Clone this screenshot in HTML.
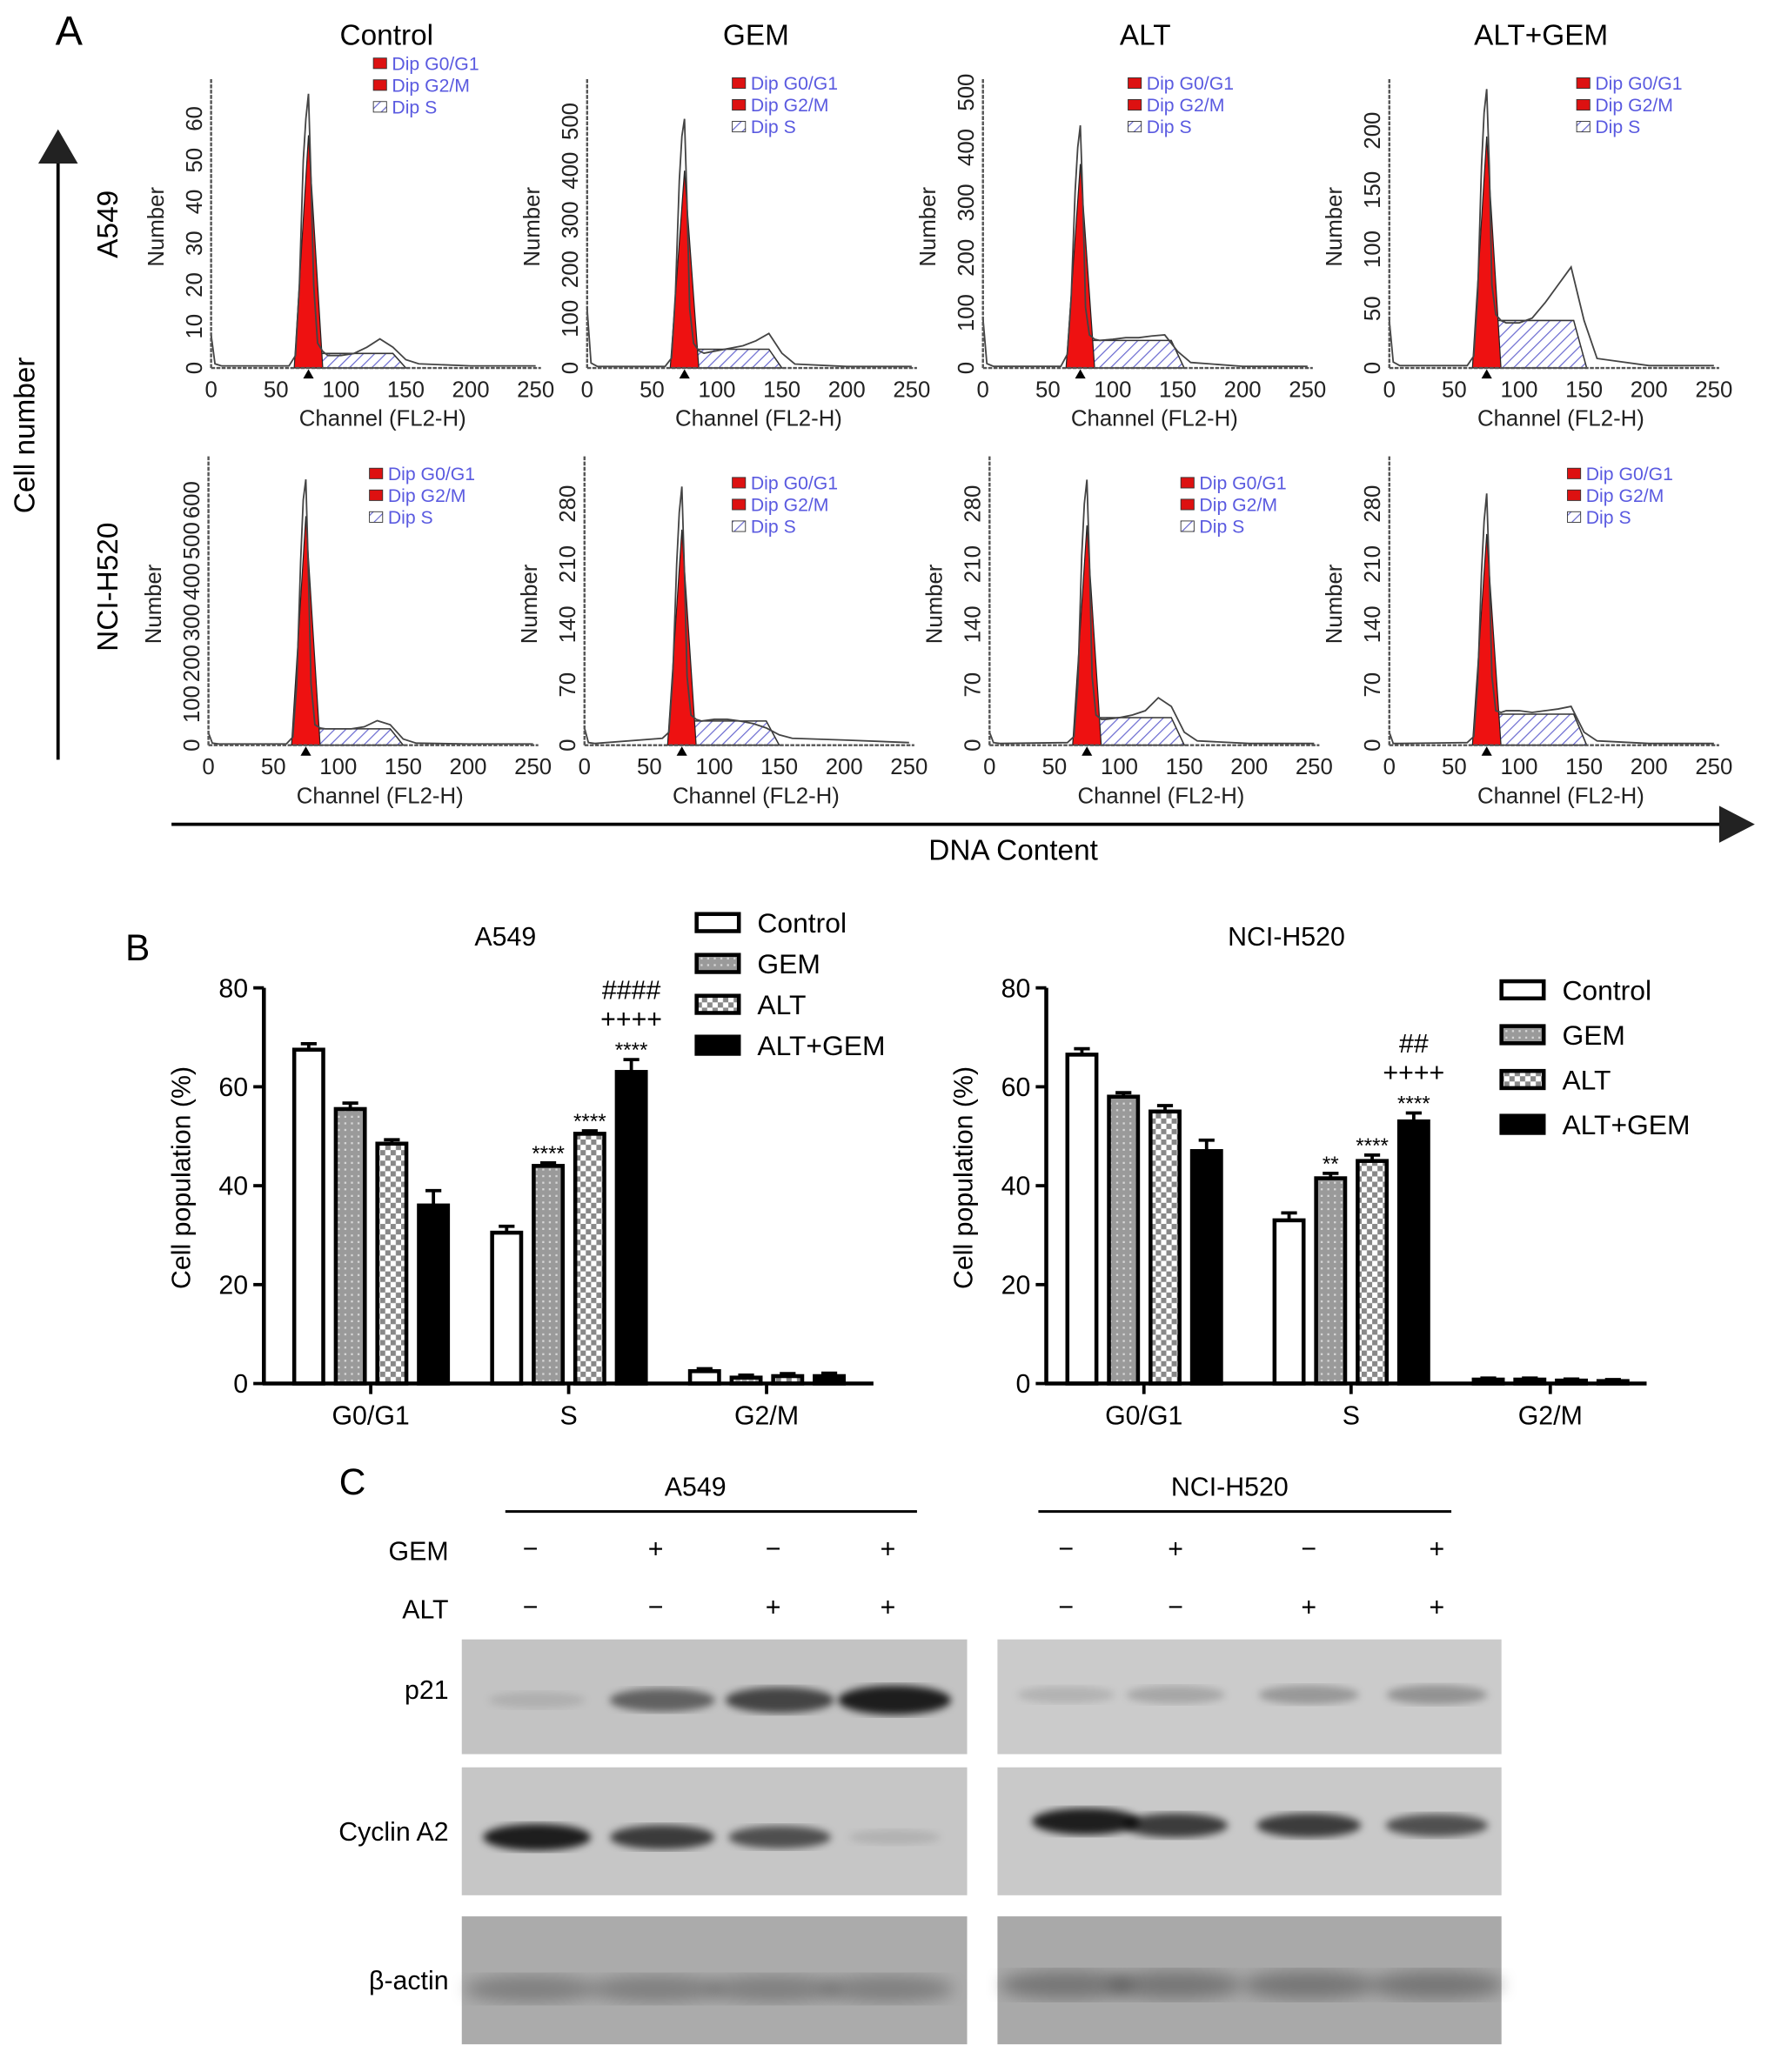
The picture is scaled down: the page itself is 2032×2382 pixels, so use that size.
<!DOCTYPE html>
<html><head><meta charset="utf-8">
<style>
html,body{margin:0;padding:0;background:#fff;}
svg{display:block;font-family:"Liberation Sans",Arial,sans-serif;}
</style></head>
<body>
<svg id="fig" xmlns="http://www.w3.org/2000/svg" width="2032" height="2382" viewBox="0 0 1340 1571" preserveAspectRatio="none">
<defs>
<pattern id="hatch" patternUnits="userSpaceOnUse" width="6" height="6" patternTransform="rotate(45)"><rect width="6" height="6" fill="#fff"/><line x1="0" y1="0" x2="0" y2="6" stroke="#6a6ad0" stroke-width="1.6"/></pattern>
<pattern id="gemPat" patternUnits="userSpaceOnUse" width="5" height="5"><rect width="5" height="5" fill="#9a9a9a"/><rect x="1" y="1" width="1.5" height="1.5" fill="#d8d8d8"/></pattern>
<pattern id="altPat" patternUnits="userSpaceOnUse" width="8" height="8"><rect width="8" height="8" fill="#fff"/><rect width="4" height="4" fill="#888"/><rect x="4" y="4" width="4" height="4" fill="#888"/></pattern>
<filter id="blur3"><feGaussianBlur stdDeviation="3"/></filter>
<filter id="blur6"><feGaussianBlur stdDeviation="6"/></filter>
</defs>
<g id="root"></g>
</svg>
<script>
// ---------- Panel A data ----------
const channels = [0,3,8,60,65,68,71,73,75,77,79,82,86,90,100,110,120,130,140,150,160,200,250];
const countsA549Control = [8,1,0.5,0.5,3,20,50,60,66,45,20,6,4,3,3,3.5,5,7,5,2,1,0.5,0.5];
const countsA549GEM = [120,10,3,3,20,150,380,470,505,330,120,50,35,30,35,40,45,55,70,30,8,3,3];
const countsA549ALT = [90,8,3,3,25,130,320,400,440,300,110,60,52,50,52,55,55,58,60,30,10,3,3];
const countsA549ALTGEM = [40,5,2,2,10,60,170,215,235,170,70,45,40,38,38,42,55,70,85,40,8,2,2];
const countsH520Control = [30,5,3,3,20,150,450,600,650,420,150,50,42,40,40,40,45,60,50,15,5,3,3];
const countsH520GEM = [20,3,2,8,15,80,210,270,300,200,80,35,30,28,30,30,28,25,20,12,8,6,3];
const countsH520ALT = [15,3,2,3,10,70,220,280,308,210,80,35,30,30,32,35,40,55,45,15,5,2,2];
const countsH520ALTGEM = [15,2,2,3,10,70,200,260,292,200,80,40,38,40,40,38,40,42,45,15,5,2,2];
const g1Fit = [56, 400, 370, 195, 560, 250, 255, 245];
const sFit = [3.5, 38, 50, 40, 40, 28, 32, 36];
const sEnd = [150, 150, 155, 152, 150, 150, 150, 152];
const tickMaxes = [60, 500, 500, 200, 600, 280, 280, 280];
const tickSteps = [10, 100, 100, 50, 100, 70, 70, 70];
const tickPxTop = [90, 92, 70, 99, 379, 382, 382, 382];
const colTitles = ["Control","GEM","ALT","ALT+GEM"];
// ---------- Panel B data ----------
const phases = ["G0/G1","S","G2/M"];
const groups = ["Control","GEM","ALT","ALT+GEM"];
const a549Values = [[67.5,55.5,48.5,36],[30.5,44,50.5,63],[2.5,1.2,1.5,1.5]];
const a549Errors = [[1.2,1.2,0.8,3],[1.3,0.6,0.6,2.5],[0.5,0.5,0.5,0.6]];
const a549Annot = [["","","",""],["","****","****","****|++++|####"],["","","",""]];
const h520Values = [[66.5,58,55,47],[33,41.5,45,53],[0.8,0.8,0.6,0.5]];
const h520Errors = [[1.2,0.8,1.2,2.2],[1.5,1,1.2,1.7],[0.3,0.3,0.3,0.3]];
const h520Annot = [["","","",""],["","**","****","****|++++|##"],["","","",""]];
const yTicksB = [0,20,40,60,80];
// ---------- Panel C data ----------
const gemSigns = ["−","+","−","+"];
const altSigns = ["−","−","+","+"];
const p21A549 = [0.1,0.5,0.65,0.85];
const p21H520 = [0.12,0.18,0.25,0.28];
const cycA549 = [0.85,0.7,0.6,0.1];
const cycH520 = [0.85,0.7,0.7,0.6];

const NS="http://www.w3.org/2000/svg";
const root=document.getElementById('root');
function mk(tag,attrs,parent){const e=document.createElementNS(NS,tag);for(const k in attrs)e.setAttribute(k,attrs[k]);(parent||root).appendChild(e);return e;}
function txt(s,attrs,parent){const e=mk('text',attrs,parent);e.textContent=s;return e;}

// ---------- Panel A ----------
let t;
t=txt("A",{x:42,y:34,'font-size':31});

let a=mk('line',{x1:44,y1:576,x2:44,y2:120,stroke:'#000','stroke-width':2.5});

a=mk('polygon',{points:'29,124 59,124 44,98',fill:'#222'});

t=txt("Cell number",{x:0,y:0,'font-size':22,'text-anchor':'middle',transform:'translate(26,330) rotate(-90)'});

t=txt("A549",{x:0,y:0,'font-size':22,'text-anchor':'middle',transform:'translate(89,170) rotate(-90)'});

t=txt("NCI-H520",{x:0,y:0,'font-size':22,'text-anchor':'middle',transform:'translate(89,445) rotate(-90)'});

a=mk('line',{x1:130,y1:625,x2:1306,y2:625,stroke:'#000','stroke-width':2.5});

a=mk('polygon',{points:'1303,611 1303,639 1330,625',fill:'#222'});

t=txt("DNA Content",{x:768,y:652,'font-size':22,'text-anchor':'middle'});


const allCounts=[countsA549Control,countsA549GEM,countsA549ALT,countsA549ALTGEM,countsH520Control,countsH520GEM,countsH520ALT,countsH520ALTGEM];
const axX=[160,445,745,1053,158,443,750,1053];
const titleX=[293,573,868,1168];
const legendPos=[[283,53],[555,68],[855,68],[1195,68],[280,364],[555,371],[895,371],[1188,364]];
for(let i=0;i<8;i++){
  const row=i<4?0:1;
  const x0=axX[i], y0=row?565:279, top=row?346:60, W=246;
  const pxu=(y0-tickPxTop[i])/tickMaxes[i];
  const xs=c=>x0+c/250*W, ys=v=>y0-v*pxu;
  const g=mk('g',{});
  
  
  if(row===0){t=txt(colTitles[i],{x:titleX[i],y:34,'font-size':22,'text-anchor':'middle'},g);
    }
  const s0=80, e=sEnd[i], h=sFit[i];
  let p=mk('polygon',{points:`${xs(s0)},${ys(0)} ${xs(s0+3)},${ys(h)} ${xs(e-10)},${ys(h)} ${xs(e)},${ys(0)}`,fill:'url(#hatch)',stroke:'#333','stroke-width':1},g);
  
  p=mk('polygon',{points:`${xs(64)},${ys(0)} ${xs(75)},${ys(g1Fit[i])} ${xs(86)},${ys(0)}`,fill:'#ee1111',stroke:'#222','stroke-width':0.8},g);
  
  p=mk('polyline',{points:channels.map((c,k)=>xs(c)+','+ys(allCounts[i][k])).join(' '),fill:'none',stroke:'#444','stroke-width':1.2},g);
  
  let l=mk('line',{x1:x0,y1:top,x2:x0,y2:y0,stroke:'#555','stroke-width':1.6,'stroke-dasharray':'3,1'},g);
  
  l=mk('line',{x1:x0,y1:y0,x2:x0+W+4,y2:y0,stroke:'#555','stroke-width':1.6,'stroke-dasharray':'3,1'},g);
  
  for(let c=0;c<=250;c+=50){
    t=txt(String(c),{x:xs(c),y:y0+22,'font-size':17,'text-anchor':'middle',fill:'#222'},g);
    
  }
  for(let v=0;v<=tickMaxes[i];v+=tickSteps[i]){
    t=txt(String(v),{x:0,y:0,'font-size':17,'text-anchor':'middle',fill:'#222',transform:`translate(${x0-7},${ys(v)}) rotate(-90)`},g);
    
  }
  t=txt("Number",{x:0,y:0,'font-size':17,'text-anchor':'middle',fill:'#222',transform:`translate(${x0-36},${row?458:172}) rotate(-90)`},g);
  
  t=txt("Channel (FL2-H)",{x:x0+130,y:y0+44,'font-size':17,'text-anchor':'middle',fill:'#222'},g);
  
  p=mk('polygon',{points:`${xs(75)-4},${y0+8} ${xs(75)+4},${y0+8} ${xs(75)},${y0+1}`,fill:'#000'},g);
  
  const [lx,ly]=legendPos[i];
  const labs=["Dip G0/G1","Dip G2/M","Dip S"];
  for(let k=0;k<3;k++){
    const r=mk('rect',{x:lx,y:ly-9+k*16.5,width:10,height:8,fill:k<2?'#dd1111':'url(#hatch)',stroke:'#333','stroke-width':0.6},g);
    
    t=txt(labs[k],{x:lx+14,y:ly+k*16.5,'font-size':14,fill:'#5a5ae0'},g);
    
  }
}

// ---------- Panel B ----------
t=txt("B",{x:95,y:728,'font-size':28});

const fills=['#fff','url(#gemPat)','url(#altPat)','#000'];
function barChart(name,ax,xEnd,centers,vals,errs,ann,title,titleX,legX,legY,legStep){
  const g=mk('g',{});
  
  const y0=1049, pxu=300/80, ys=v=>y0-v*pxu;
  t=txt(title,{x:titleX,y:717,'font-size':20,'text-anchor':'middle'},g);
  
  const offs=[-47,-15.5,16,47.5];
  for(let pi=0;pi<3;pi++){
    for(let b=0;b<4;b++){
      const cx=centers[pi]+offs[b], v=vals[pi][b], er=errs[pi][b];
      const el=mk('line',{x1:cx,y1:ys(v),x2:cx,y2:ys(v+er),stroke:'#000','stroke-width':2.5},g);
      
      const cap=mk('line',{x1:cx-6,y1:ys(v+er),x2:cx+6,y2:ys(v+er),stroke:'#000','stroke-width':2.5},g);
      
      const r=mk('rect',{x:cx-11,y:ys(v),width:22,height:v*pxu,fill:fills[b],stroke:'#000','stroke-width':3},g);
      
      
      if(ann[pi][b]){
        const parts=ann[pi][b].split('|');
        const ay=[ys(v+er)-8, ys(v+er)-24, ys(v+er)-46];
        parts.forEach((s,k)=>{
          const isStar=s[0]==='*';
          t=txt(s,{x:cx,y:ay[k]+(isStar?6:0),'font-size':isStar?16:20,'text-anchor':'middle'},g);
          
        });
      }
    }
    let l=mk('line',{x1:centers[pi],y1:y0,x2:centers[pi],y2:y0+8,stroke:'#000','stroke-width':2.5},g);
    
    t=txt(phases[pi],{x:centers[pi],y:y0+31,'font-size':20,'text-anchor':'middle'},g);
    
  }
  let l=mk('line',{x1:ax,y1:749,x2:ax,y2:y0+1,stroke:'#000','stroke-width':3},g);
  
  l=mk('line',{x1:ax-1,y1:y0,x2:xEnd,y2:y0,stroke:'#000','stroke-width':3},g);
  
  yTicksB.forEach(v=>{
    const tk=mk('line',{x1:ax-8,y1:ys(v),x2:ax,y2:ys(v),stroke:'#000','stroke-width':2.5},g);
    
    t=txt(String(v),{x:ax-12,y:ys(v)+7,'font-size':20,'text-anchor':'end'},g);
    
  });
  t=txt("Cell population (%)",{x:0,y:0,'font-size':20,'text-anchor':'middle',transform:`translate(${ax-56},893) rotate(-90)`},g);
  
  groups.forEach((s,k)=>{
    const y=legY+k*legStep[k];
    const r=mk('rect',{x:legX,y:y-7,width:32,height:13,fill:fills[k],stroke:'#000','stroke-width':3},g);
    
    t=txt(s,{x:legX+46,y:y+7,'font-size':21},g);
    
  });
}
barChart('bar-chart-a549',200,662,[281,431,581],a549Values,a549Errors,a549Annot,"A549",383,528,700,[31,31,31,31]);
barChart('bar-chart-nci-h520',793,1248,[867,1024,1175],h520Values,h520Errors,h520Annot,"NCI-H520",975,1138,751,[33,34,34,34]);

// ---------- Panel C ----------
t=txt("C",{x:257,y:1133,'font-size':28});

const lanesA=[402,497,586,673], lanesH=[808,891,992,1089];
[[527,383,695,"A549"],[932,787,1100,"NCI-H520"]].forEach(([cx,x1,x2,s])=>{
  t=txt(s,{x:cx,y:1134,'font-size':20,'text-anchor':'middle'});
  
  const l=mk('line',{x1:x1,y1:1146,x2:x2,y2:1146,stroke:'#000','stroke-width':2});
  
});
t=txt("GEM",{x:340,y:1183,'font-size':20,'text-anchor':'end'});

t=txt("ALT",{x:340,y:1227,'font-size':20,'text-anchor':'end'});

[...lanesA,...lanesH].forEach((x,k)=>{
  t=txt(gemSigns[k%4],{x:x,y:1181,'font-size':20,'text-anchor':'middle'});
  
  t=txt(altSigns[k%4],{x:x,y:1225,'font-size':20,'text-anchor':'middle'});
  
});
const blots=[["p21",1243,1330,'#c3c3c3','#cbcbcb',1289,1285,p21A549,p21H520,36,11],
             ["Cyclin A2",1340,1437,'#c6c6c6','#c9c9c9',1393,1384,cycA549,cycH520,34,10],
             ["β-actin",1453,1550,'#ababab','#a9a9a9',1508,1505,[0.25,0.25,0.25,0.25],[0.3,0.3,0.3,0.3],48,16]];
blots.forEach(([lab,y1,y2,bgA,bgH,byA,byH,iA,iH,rw,rh])=>{
  const g=mk('g',{});
  
  t=txt(lab,{x:340,y:(lab==="p21"?1288:(y1+y2)/2+7),'font-size':20,'text-anchor':'end'},g);
  
  [[350,733,bgA,byA,iA,lanesA],[756,1138,bgH,byH,iH,lanesH]].forEach(([x1,x2,bg,by,ints,lanes],side)=>{
    const r=mk('rect',{x:x1,y:y1,width:x2-x1,height:y2-y1,fill:bg},g);
    
    ints.forEach((v,k)=>{
      const lx=lanes[k]+(side&&lab==="Cyclin A2"&&k===0?15:0);
      const yy=by+(side&&lab==="Cyclin A2"&&k===0?-3:0);
      const e=mk('ellipse',{cx:lx+(side===0&&lab!=="β-actin"?5:0),cy:yy,rx:rw+v*8,ry:rh*(0.5+v*0.6),fill:'#000','fill-opacity':v,filter:lab==="β-actin"?'url(#blur6)':'url(#blur3)'},g);
      
    });
  });
});
</script>
</body></html>
